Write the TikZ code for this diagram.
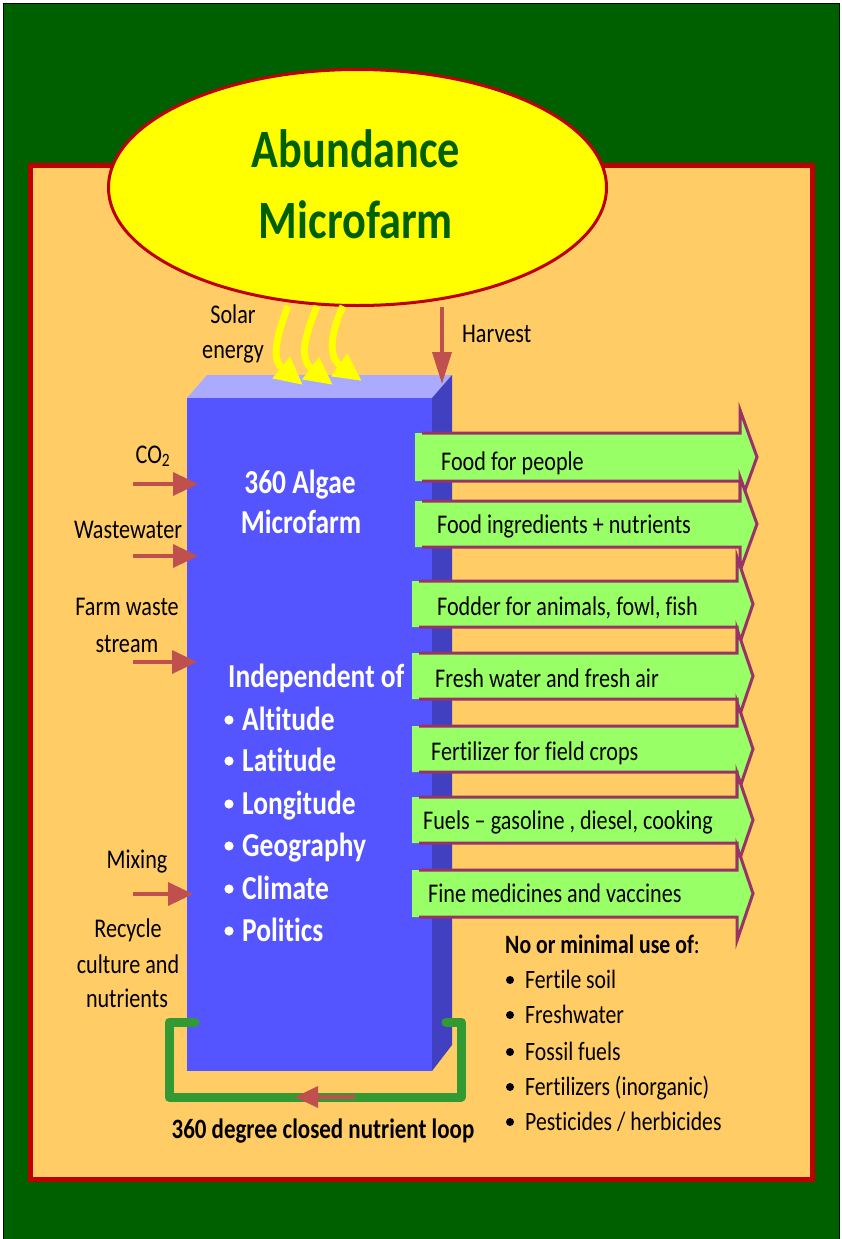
\documentclass[tikz,border=0pt]{standalone}
\usepackage{fontspec}
\setmainfont{Carlito}[FakeStretch=0.82, Ligatures={NoCommon}]
\usetikzlibrary{arrows.meta,shapes.geometric}
\definecolor{bggreen}{HTML}{006000}
\definecolor{panel}{HTML}{FFCC66}
\definecolor{dred}{HTML}{C00000}
\definecolor{frontblue}{HTML}{5555FF}
\definecolor{topblue}{HTML}{AAAAFF}
\definecolor{sideblue}{HTML}{4040C0}
\definecolor{argreen}{HTML}{99FF66}
\definecolor{arpurple}{HTML}{993366}
\definecolor{inred}{HTML}{C0504D}
\definecolor{loopgreen}{HTML}{339933}
\definecolor{titlegreen}{HTML}{006000}
\definecolor{sunyellow}{HTML}{FFFF00}
\begin{document}
\begin{tikzpicture}[x=1pt,y=-1pt,
  lbl/.style={font=\fontsize{27}{30}\selectfont, text=black, inner sep=0pt},
  lst/.style={font=\fontsize{26.5}{30}\selectfont, text=black, inner sep=0pt},
  blk/.style={font=\fontsize{33.5}{36}\selectfont\bfseries, text=white, inner sep=0pt},
  ttl/.style={font=\fontsize{54}{60}\selectfont\bfseries, text=titlegreen, inner sep=0pt},
  inarrow/.style={draw=inred, line width=3.5pt, -{Triangle[length=25pt,width=23pt]}},
  sunarrow/.style={draw=sunyellow, line width=7pt, -{Triangle[length=28pt,width=26pt]}},
  outfill/.style={fill=argreen},
  outline/.style={draw=arpurple, line width=3pt, line join=miter},
  loopline/.style={draw=loopgreen, line width=9pt, line cap=round, line join=round}
]
\useasboundingbox (0,0) rectangle (842,1239);
\fill[white] (0,0) rectangle (842,1239);
% background
\draw[black, line width=1.5pt, fill=bggreen] (3.5,3.5) rectangle (839.5,1250);
\draw[dred, line width=5pt, fill=panel] (30,165.5) rectangle (812,1179);

% block
\fill[topblue] (187,398) -- (207,375) -- (452,375) -- (432,398) -- cycle;
\fill[sideblue] (432,398) -- (452,375) -- (452,1045) -- (432,1071) -- cycle;
\node[name=block, fill=frontblue, inner sep=0pt, minimum width=245pt, minimum height=673pt] at (309.5,734.5) {};

% title ellipse
\node[name=sun, ellipse, draw=dred, line width=3pt, fill=sunyellow, minimum width=498pt, minimum height=236pt, inner sep=0pt] at (357.5,187.5) {};
\node[ttl, anchor=base] (t1) at (356,167) {Abundance};
\node[ttl, anchor=base] (t2) at (356,238) {Microfarm};

% solar arrows
\coordinate (s1a) at (288,306); \coordinate (s1b) at (303,385);
\coordinate (s2a) at (317,306); \coordinate (s2b) at (333,385);
\coordinate (s3a) at (343,306); \coordinate (s3b) at (362,381);
\draw[sunarrow] (s1a) .. controls (275,340) and (272,360) .. (s1b);
\draw[sunarrow] (s2a) .. controls (303,340) and (300,360) .. (s2b);
\draw[sunarrow] (s3a) .. controls (330,335) and (328,357) .. (s3b);
\node[lbl, anchor=base] (solar1) at (233,323) {Solar};
\node[lbl, anchor=base] (solar2) at (233,358) {energy};

% harvest
\coordinate (hva) at (442,307); \coordinate (hvb) at (442,384);
\draw[draw=inred, line width=3.5pt, -{Triangle[length=32pt,width=19pt]}] (hva) -- (hvb);
\node[lbl, anchor=base west] (harv) at (462,342) {Harvest};

% inputs
\coordinate (co2a) at (133,484); \coordinate (co2b) at (198,484);
\coordinate (wwa) at (133,556); \coordinate (wwb) at (198,556);
\coordinate (fwa) at (133,662); \coordinate (fwb) at (197,662);
\coordinate (mxa) at (133,894); \coordinate (mxb) at (193,894);
\draw[inarrow] (co2a) -- (co2b);
\draw[inarrow] (wwa) -- (wwb);
\draw[inarrow] (fwa) -- (fwb);
\draw[inarrow] (mxa) -- (mxb);
\node[lbl, anchor=base] (co2) at (153,463) {CO\textsubscript{2}};
\node[lbl, anchor=base] (ww) at (128,538) {Wastewater};
\node[lbl, anchor=base] (fw1) at (127,615) {Farm waste};
\node[lbl, anchor=base] (fw2) at (127,652) {stream};
\node[lbl, anchor=base] (mx) at (137,868) {Mixing};
\node[lbl, anchor=base] (rc1) at (128,937) {Recycle};
\node[lbl, anchor=base] (rc2) at (128,973) {culture and};
\node[lbl, anchor=base] (rc3) at (127,1007) {nutrients};

% block text
\node[blk, anchor=base] (b1) at (300,493) {360 Algae};
\node[blk, anchor=base] (b2) at (301,533) {Microfarm};
\node[blk, anchor=base west] (b3) at (228,687) {Independent of};
\foreach \n/\y/\w in {1/730/Altitude, 2/771/Latitude, 3/814/Longitude, 4/856/Geography, 5/899/Climate, 6/941/Politics}{
  \fill[white] (229,\y-10) circle (4.6pt);
  \node[blk, anchor=base west] (ind\n) at (242,\y) {\w};
}

% output arrows
\foreach \n/\t/\b/\xo/\bk/\tp/\lx/\ly/\txt in {
  1/433/481/415/740/757/441/470/{Food for people},
  2/501/547/415/740/757/437/533/{Food ingredients + nutrients},
  3/581/627/412/737/753/437/615/{Fodder for animals, fowl, fish},
  4/653/699/412/737/753/435/687/{Fresh water and fresh air},
  5/726/772/412/737/753/431/760/{Fertilizer for field crops},
  6/797/843/412/737/753/423/829/{Fuels – gasoline , diesel, cooking},
  7/870/917/412/737/753/428/902/{Fine medicines and vaccines}}{
  \pgfmathsetmacro{\c}{(\t+\b)/2}
  \fill[outfill] (\xo,\t) -- (\bk,\t) -- (\bk,\c-47) -- (\tp,\c) -- (\bk,\c+47) -- (\bk,\b) -- (\xo,\b) -- cycle;
  \draw[outline] (\xo+7,\t) -- (\bk,\t) -- (\bk,\c-47) -- (\tp,\c) -- (\bk,\c+47) -- (\bk,\b) -- (\xo+7,\b);
  \node[lbl, anchor=base west] (out\n) at (\lx,\ly) {\txt};
}

% loop
\draw[loopline] (195,1022) -- (169,1022) -- (169,1097) -- (461,1097) -- (461,1022) -- (446,1022);
\coordinate (lpa) at (355,1097); \coordinate (lpb) at (295,1097);
\draw[draw=inred, line width=3.5pt, -{Triangle[length=23pt,width=21pt]}] (lpa) -- (lpb);
\node[font=\fontsize{28}{30}\selectfont\bfseries, text=black, inner sep=0pt, anchor=base] (looplbl) at (323,1138) {360 degree closed nutrient loop};

% no or minimal use
\node[lst, anchor=base west] (nm) at (505,953) {\textbf{No or minimal use of}:};
\foreach \n/\y/\w in {1/988/{Fertile soil}, 2/1023/{Freshwater}, 3/1060/{Fossil fuels}, 4/1095/{Fertilizers (inorganic)}, 5/1130/{Pesticides / herbicides}}{
  \fill[black] (510,\y-8) circle (4pt);
  \node[lst, anchor=base west] (nm\n) at (525,\y) {\w};
}
\end{tikzpicture}
\end{document}
